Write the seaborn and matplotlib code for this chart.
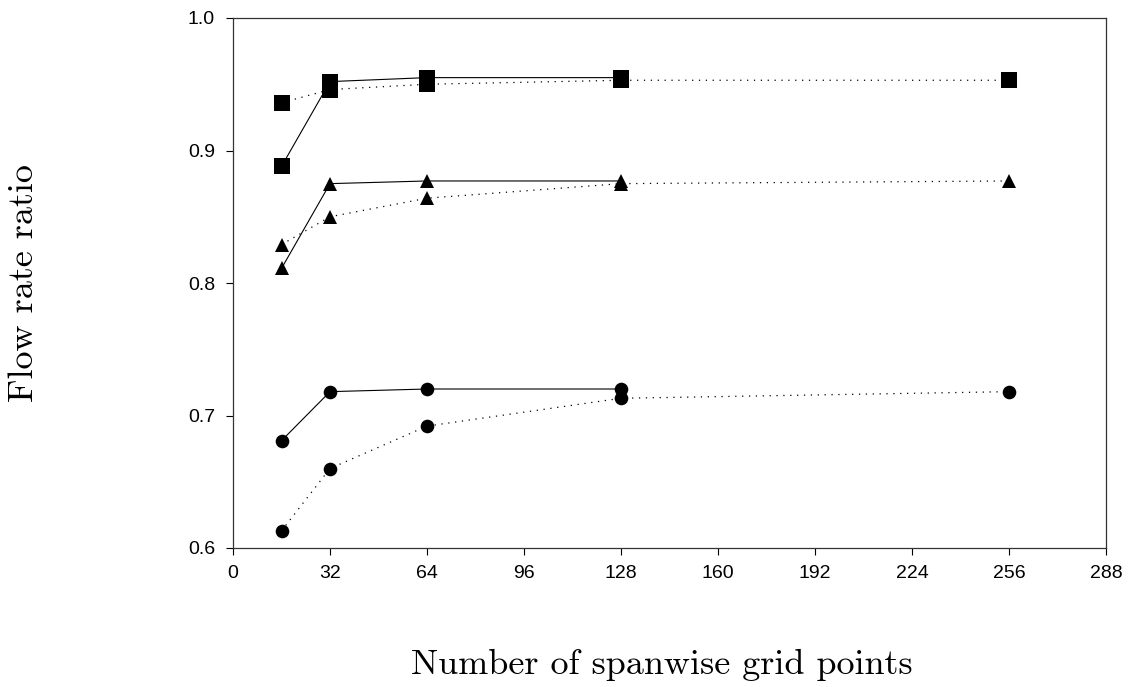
import matplotlib
matplotlib.use("Agg")
import matplotlib.pyplot as plt
import pandas as pd
import seaborn as sns

# spanwise grid points
n_solid = [16, 32, 64, 128]
n_dotted = [16, 32, 64, 128, 256]

square_solid = [0.888, 0.952, 0.955, 0.955]
square_dotted = [0.936, 0.946, 0.950, 0.953, 0.953]
triangle_solid = [0.811, 0.875, 0.877, 0.877]
triangle_dotted = [0.829, 0.850, 0.864, 0.875, 0.877]
circle_solid = [0.681, 0.718, 0.720, 0.720]
circle_dotted = [0.613, 0.660, 0.692, 0.713, 0.718]

x_ticks = [0, 32, 64, 96, 128, 160, 192, 224, 256, 288]
y_ticks = [0.6, 0.7, 0.8, 0.9, 1.0]

rows = []
for case, sol, dot in [
    ("square", square_solid, square_dotted),
    ("triangle", triangle_solid, triangle_dotted),
    ("circle", circle_solid, circle_dotted),
]:
    rows += [(case, "solid", n, v) for n, v in zip(n_solid, sol)]
    rows += [(case, "dotted", n, v) for n, v in zip(n_dotted, dot)]
df = pd.DataFrame(rows, columns=["case", "scheme", "n", "ratio"])

sns.set_style("ticks")
plt.rcParams["font.family"] = ["Liberation Sans", "DejaVu Sans"]
plt.rcParams["text.color"] = "black"
plt.rcParams["axes.labelcolor"] = "black"

fig = plt.figure(figsize=(11.3, 6.87), dpi=100)
ax = fig.add_axes([233 / 1130, 1 - 548 / 687, 873 / 1130, 530 / 687])

markers = {"square": ("s", 11), "triangle": ("^", 10), "circle": ("o", 9.8)}
styles = {"solid": ("-", 0.8), "dotted": ((0, (1, 4.5)), 0.9)}

for (case, scheme), sub in df.groupby(["case", "scheme"], sort=False):
    mk, ms = markers[case]
    ls, lw = styles[scheme]
    sns.lineplot(
        data=sub, x="n", y="ratio", ax=ax, color="black",
        marker=mk, markersize=ms, markeredgewidth=0,
        linestyle=ls, linewidth=lw, errorbar=None, legend=False,
    )

ax.set_xlim(0, 288)
ax.set_ylim(0.6, 1.0)
ax.set_xticks(x_ticks)
ax.set_yticks(y_ticks)
ax.set_xticklabels([str(t) for t in x_ticks])
ax.set_yticklabels([f"{t:.1f}" for t in y_ticks])
ax.tick_params(direction="out", length=5, width=0.8, labelsize=14, colors="black")
ax.tick_params(axis="x", pad=7)
ax.tick_params(axis="y", pad=8)
for s in ax.spines.values():
    s.set_linewidth(0.9)
    s.set_color("#333333")

ax.set_xlabel("Number of spanwise grid points", fontfamily="cmr10", fontsize=26, va="center")
ax.set_ylabel("Flow rate ratio", fontfamily="cmr10", fontsize=26, va="center", ha="center")
ax.xaxis.set_label_coords(0.491, -0.221)
ax.yaxis.set_label_coords(-0.239, 0.5)

fig.savefig("out.png", dpi=100)
